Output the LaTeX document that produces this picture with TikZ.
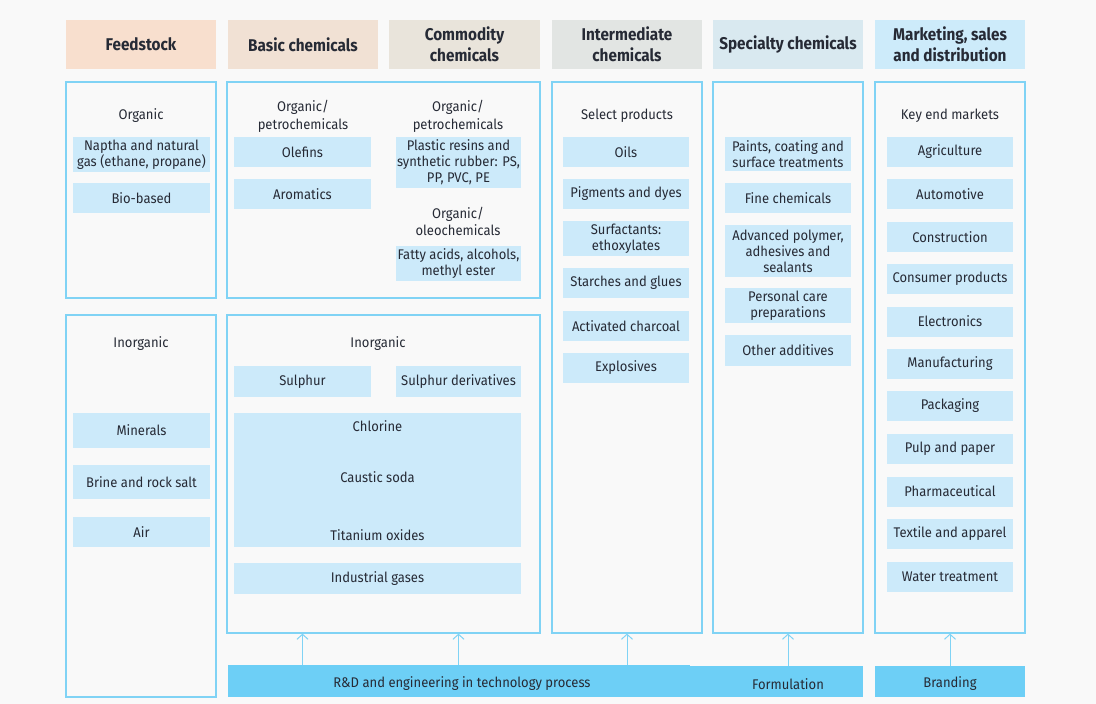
\documentclass[tikz,border=0pt]{standalone}
\usepackage{fontspec}
\setmainfont{Fira Sans}[FakeStretch=0.93]
\newfontfamily\hdrfont{Fira Sans}[FakeStretch=0.9]
\usetikzlibrary{arrows.meta}
\definecolor{bgc}{HTML}{F9F9F9}
\definecolor{bordc}{HTML}{80D3F5}
\definecolor{boxc}{HTML}{CCEAFA}
\definecolor{barc}{HTML}{6DCFF6}
\definecolor{txtc}{HTML}{262A35}
\definecolor{hfeed}{HTML}{F8DFCE}
\definecolor{hbasic}{HTML}{F1E1D4}
\definecolor{hcomm}{HTML}{E9E4DB}
\definecolor{hinter}{HTML}{E2E5E3}
\definecolor{hspec}{HTML}{D9E9F0}
\definecolor{hmark}{HTML}{CDEBFA}
\tikzset{
  hdr/.style={inner sep=0pt, align=center, text=txtc, font=\hdrfont\fontsize{17}{21.5}\selectfont\bfseries, minimum width=150pt, minimum height=49pt},
  obox/.style={draw=bordc, line width=1.2pt, fill=bgc, inner sep=0pt},
  ibox/.style={fill=boxc, inner sep=0pt, align=center, text=txtc, font=\fontsize{14}{16}\selectfont},
  lbl/.style={inner sep=0pt, align=center, text=txtc, font=\fontsize{14}{17.5}\selectfont},
  bar/.style={fill=barc, inner sep=0pt},
  bartxt/.style={inner sep=0pt, text=txtc, font=\fontsize{14}{16}\selectfont},
  arr/.style={draw=bordc, line width=1pt, -{Straight Barb[length=5pt,width=11pt,line width=1pt]}},
}
\begin{document}
\begin{tikzpicture}[x=1pt,y=-1pt]
\fill[bgc] (0,0) rectangle (1096,704);
\useasboundingbox (0,0) rectangle (1096,704);

% headers
\node[hdr, fill=hfeed] (feedH) at (141,44.5) {Feedstock};
\node[hdr, fill=hbasic] (basicH) at (303,44.5) {Basic chemicals};
\node[hdr, fill=hcomm, minimum width=151pt] (commH) at (464.5,44.5) {Commodity\\chemicals};
\node[hdr, fill=hinter] (interH) at (627,44.5) {Intermediate\\chemicals};
\node[hdr, fill=hspec] (specH) at (788,44.5) {Specialty chemicals};
\node[hdr, fill=hmark] (markH) at (950,44.5) {Marketing, sales\\and distribution};

% outer boxes
\node[obox, minimum width=150pt, minimum height=216pt] (feedOrg) at (141,190) {};
\node[obox, minimum width=150pt, minimum height=382pt] (feedInorg) at (141,506) {};
\node[obox, minimum width=313pt, minimum height=216pt] (bcOrg) at (383.5,190) {};
\node[obox, minimum width=313pt, minimum height=318pt] (bcInorg) at (383.5,474) {};
\node[obox, minimum width=150pt, minimum height=551pt] (interBox) at (627,357.5) {};
\node[obox, minimum width=150pt, minimum height=551pt] (specBox) at (788,357.5) {};
\node[obox, minimum width=150pt, minimum height=551pt] (markBox) at (950,357.5) {};

% labels
\node[lbl] (feedOrgL) at (141,116) {Organic};
\node[lbl] (feedInorgL) at (141,344) {Inorganic};
\node[lbl] (basicOrgL) at (303,116.5) {Organic/\\petrochemicals};
\node[lbl] (commOrgL) at (458,116.5) {Organic/\\petrochemicals};
\node[lbl] (commOleoL) at (458,221.5) {Organic/\\oleochemicals};
\node[lbl] (bcInorgL) at (378,344) {Inorganic};
\node[lbl] (interL) at (627,116) {Select products};
\node[lbl] (markL) at (950,116) {Key end markets};

% feedstock
\node[ibox, minimum width=137pt, minimum height=35pt] (naptha) at (141.5,154.5) {Naptha and natural\\gas (ethane, propane)};
\node[ibox, minimum width=137pt, minimum height=30pt] (bio) at (141.5,198) {Bio-based};
\node[ibox, minimum width=137pt, minimum height=35pt] (minerals) at (141.5,430.5) {Minerals};
\node[ibox, minimum width=137pt, minimum height=34pt] (brine) at (141.5,482) {Brine and rock salt};
\node[ibox, minimum width=137pt, minimum height=30pt] (air) at (141.5,532) {Air};

% basic
\node[ibox, minimum width=137pt, minimum height=30pt] (olef) at (302.5,152) {Olefins};
\node[ibox, minimum width=137pt, minimum height=30pt] (arom) at (302.5,194) {Aromatics};
\node[ibox, minimum width=137pt, minimum height=31pt] (sulph) at (302.5,381.5) {Sulphur};

% commodity
\node[ibox, minimum width=125pt, minimum height=51pt] (plastic) at (458.5,162.5) {Plastic resins and\\synthetic rubber: PS,\\PP, PVC, PE};
\node[ibox, minimum width=125pt, minimum height=35pt] (fatty) at (458.5,263.5) {Fatty acids, alcohols,\\methyl ester};
\node[ibox, minimum width=125pt, minimum height=31pt] (sulphd) at (458.5,381.5) {Sulphur derivatives};
\node[ibox, minimum width=287pt, minimum height=134pt] (chlorBox) at (377.5,480) {};
\node[bartxt] (chlor) at (377.5,426) {Chlorine};
\node[bartxt] (caustic) at (377.5,477) {Caustic soda};
\node[bartxt] (titan) at (377.5,535) {Titanium oxides};
\node[ibox, minimum width=287pt, minimum height=31pt] (gases) at (377.5,578.5) {Industrial gases};

% intermediate
\node[ibox, minimum width=126pt, minimum height=30pt] (oils) at (626,152) {Oils};
\node[ibox, minimum width=126pt, minimum height=30pt] (pigm) at (626,194) {Pigments and dyes};
\node[ibox, minimum width=126pt, minimum height=35pt] (surf) at (626,238.5) {Surfactants:\\ethoxylates};
\node[ibox, minimum width=126pt, minimum height=30pt] (starch) at (626,283) {Starches and glues};
\node[ibox, minimum width=126pt, minimum height=30pt] (charc) at (626,326) {Activated charcoal};
\node[ibox, minimum width=126pt, minimum height=30pt] (explo) at (626,368) {Explosives};

% specialty
\node[ibox, minimum width=126pt, minimum height=34pt] (paints) at (788,154) {Paints, coating and\\surface treatments};
\node[ibox, minimum width=126pt, minimum height=30pt] (fine) at (788,198) {Fine chemicals};
\node[ibox, minimum width=126pt, minimum height=52pt] (adv) at (788,251) {Advanced polymer,\\adhesives and\\sealants};
\node[ibox, minimum width=126pt, minimum height=35pt] (pers) at (788,305.5) {Personal care\\preparations};
\node[ibox, minimum width=126pt, minimum height=31pt] (other) at (788,350.5) {Other additives};

% marketing
\node[ibox, minimum width=126pt, minimum height=30pt] (agri) at (950,152) {Agriculture};
\node[ibox, minimum width=126pt, minimum height=30pt] (auto) at (950,194) {Automotive};
\node[ibox, minimum width=126pt, minimum height=30pt] (constr) at (950,237) {Construction};
\node[ibox, minimum width=126pt, minimum height=30pt] (consum) at (950,279) {Consumer products};
\node[ibox, minimum width=126pt, minimum height=30pt] (elec) at (950,321.5) {Electronics};
\node[ibox, minimum width=126pt, minimum height=30pt] (manuf) at (950,364) {Manufacturing};
\node[ibox, minimum width=126pt, minimum height=30pt] (pack) at (950,406) {Packaging};
\node[ibox, minimum width=126pt, minimum height=30pt] (pulp) at (950,448.5) {Pulp and paper};
\node[ibox, minimum width=126pt, minimum height=30pt] (pharma) at (950,491.5) {Pharmaceutical};
\node[ibox, minimum width=126pt, minimum height=30pt] (textile) at (950,533.5) {Textile and apparel};
\node[ibox, minimum width=126pt, minimum height=30pt] (water) at (950,576.5) {Water treatment};

% bottom bars
\node[bar, minimum width=462pt, minimum height=32pt] (rdBar) at (459,681) {};
\node[bartxt] (rdTxt) at (462,684) {R\&D and engineering in technology process};
\node[bar, minimum width=173pt, minimum height=31pt] (formBar) at (776.5,681.5) {};
\node[bartxt] (formTxt) at (788,684) {Formulation};
\node[bar, minimum width=150pt, minimum height=31pt] (brandBar) at (950,681.5) {};
\node[bartxt] (brandTxt) at (950,684) {Branding};

% arrows
\draw[arr] (olef |- rdBar.north) -- (olef |- bcInorg.south);
\draw[arr] (plastic |- rdBar.north) -- (plastic |- bcInorg.south);
\draw[arr] (interBox.south |- rdBar.north) -- (interBox.south);
\draw[arr] (specBox.south |- formBar.north) -- (specBox.south);
\draw[arr] (markBox.south |- brandBar.north) -- (markBox.south);
\end{tikzpicture}
\end{document}
